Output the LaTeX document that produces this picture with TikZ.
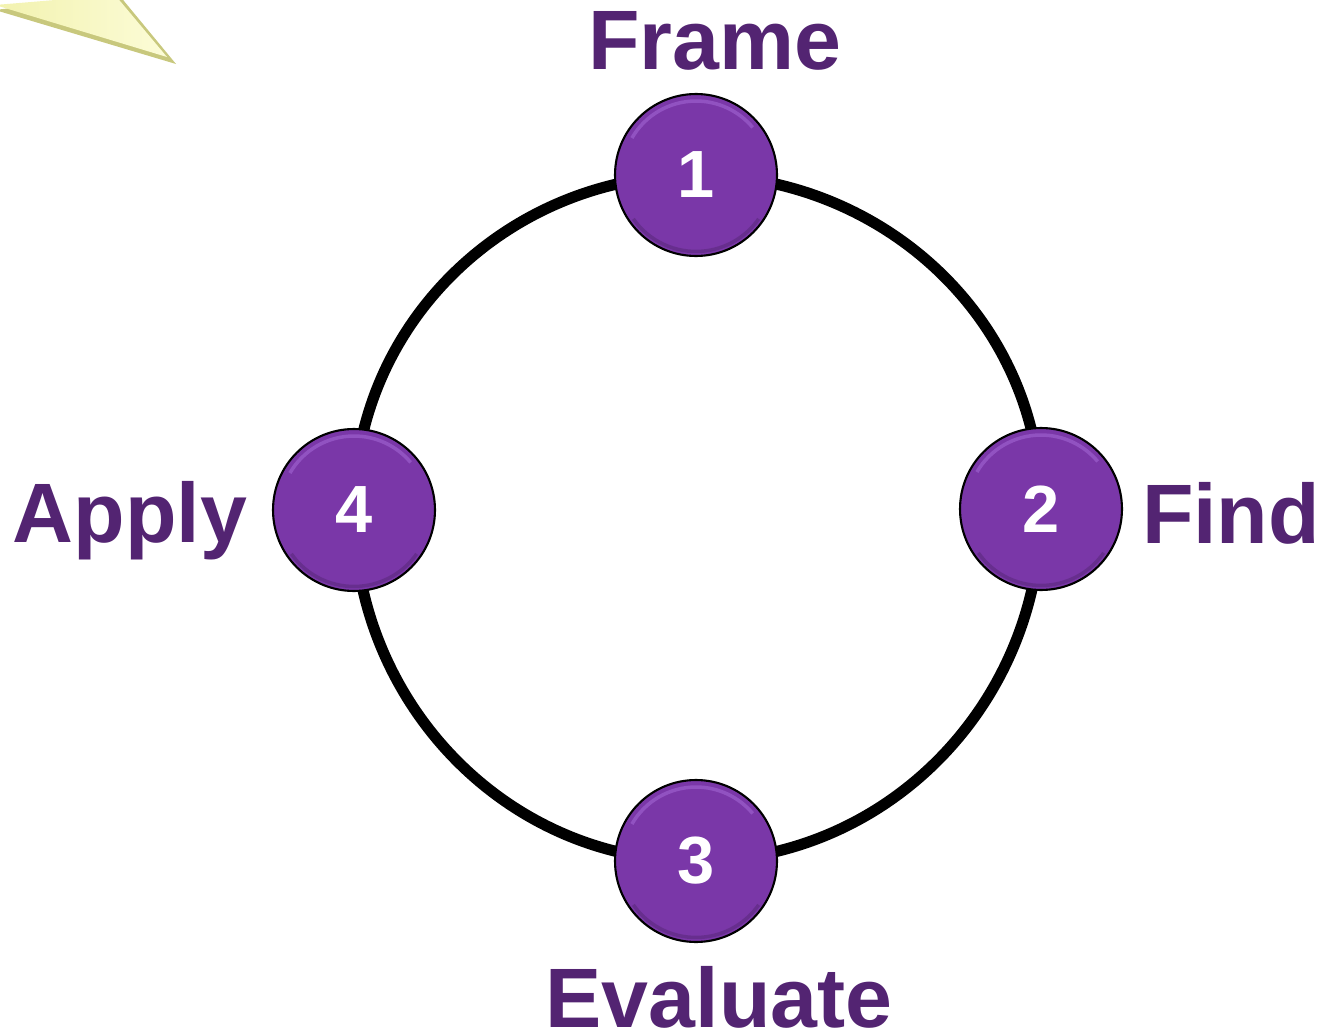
\documentclass[tikz,border=0pt]{standalone}
\usepackage{fontspec}
\setmainfont{Liberation Sans}
\usetikzlibrary{backgrounds}
\definecolor{labelpurple}{RGB}{83,36,114}
\definecolor{nodepurple}{RGB}{122,55,168}
\definecolor{rimpurple}{RGB}{165,105,215}
\definecolor{calloutyellow}{RGB}{242,242,175}
\definecolor{calloutlight}{RGB}{252,252,215}
\definecolor{calloutedge}{RGB}{200,200,125}
\tikzset{
  px/.style={x=0.02cm,y=0.02cm},
  stepnode/.style={circle,minimum size=3.24cm,inner sep=0pt,fill=nodepurple,
    draw=black,line width=1.2pt,text=white,font=\bfseries\fontsize{38}{38}\selectfont,
    path picture={
      \draw[rimpurple,line width=2pt,opacity=0.55]
        ([shift={(150:1.48cm)}]path picture bounding box.center) arc (150:40:1.48cm);
      \draw[black,opacity=0.15,line width=2pt]
        ([shift={(215:1.53cm)}]path picture bounding box.center) arc (215:325:1.53cm);
    }},
  steplabel/.style={anchor=base,inner sep=0pt,text=labelpurple,
    font=\bfseries\fontsize{48}{48}\selectfont},
  ring/.style={line width=6.3pt,black}
}
\begin{document}
\begin{tikzpicture}[px]
\useasboundingbox (0,0) rectangle (1323,-1031);
% callout pointer
\fill[calloutedge] (-5,-10) -- (119,5) -- (176,-64) -- cycle;
\shade[left color=calloutyellow,right color=calloutlight] (-5,-5) -- (115,5) -- (167,-57) -- cycle;
% nodes
\node[stepnode] (n1) at (696,-175) {1};
\node[stepnode] (n2) at (1041,-509) {2};
\node[stepnode] (n3) at (696,-861) {3};
\node[stepnode] (n4) at (354,-510) {4};
% ring
\begin{scope}[on background layer]
\draw[ring] (n1.center) to[out=0,in=90] (n2.center);
\draw[ring] (n2.center) to[out=-90,in=0] (n3.center);
\draw[ring] (n3.center) to[out=180,in=-90] (n4.center);
\draw[ring] (n4.center) to[out=90,in=180] (n1.center);
\end{scope}
% labels
\node[steplabel] (lframe) at (715,-70) {Frame};
\node[steplabel] (lfind) at (1231,-543) {Find};
\node[steplabel] (leval) at (719,-1027) {Evaluate};
\node[steplabel] (lapply) at (130,-542) {Apply};
\end{tikzpicture}
\end{document}
